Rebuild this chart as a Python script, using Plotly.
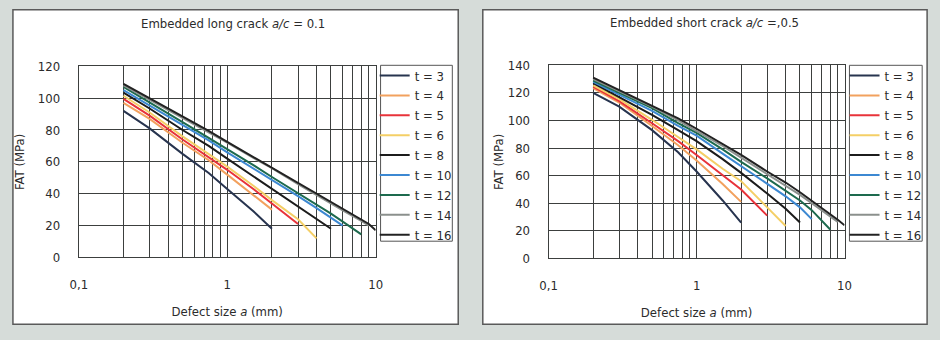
import plotly.graph_objects as go

W, H = 940, 340

# ---------------- data ----------------
defect_size = [0.2, 0.3, 0.5, 0.75, 1, 1.5, 2, 3, 4, 5, 6, 8, 9, 10]
thickness = ["t = 3", "t = 4", "t = 5", "t = 6", "t = 8", "t = 10", "t = 12", "t = 14", "t = 16"]
colors = ["#27344f", "#f2a15e", "#e8333a", "#f4cf66", "#1c1c1c", "#3c88d2", "#1d6a4e", "#8b908d", "#222222"]

# Embedded long crack a/c = 0.1  (FAT in MPa at defect_size points)
long_t3 = [92, 81, 65, 53, 43, 29, 18]
long_t4 = [97, 87, 72, 61, 52, 39, 30]
long_t5 = [99.5, 89, 74, 63, 55, 43, 34, 21]
long_t6 = [101.5, 91, 76, 65, 57, 45, 36, 24, 12]
long_t8 = [103.5, 93.5, 80, 70, 62, 51, 43, 32, 24, 18]
long_t10 = [105, 95.5, 83, 73.5, 66, 56, 48.5, 38.5, 31, 25, 20]
long_t12 = [107, 97.5, 85, 75, 68, 58, 50.5, 40.5, 33, 27.5, 22.5, 14.5]
long_t14 = [108, 99, 87.5, 78.5, 72, 62.5, 56, 46, 39, 34, 29.5, 23, 20]
long_t16 = [109, 100, 88.5, 79.5, 72.5, 63, 56.5, 47, 40, 35, 30.5, 24, 21, 17]

# Embedded short crack a/c = 0.5
short_t3 = [120, 110, 93, 77, 63, 42, 26]
short_t4 = [123.5, 113, 96, 82, 71, 54, 41]
short_t5 = [124.5, 114, 98, 85, 75, 60, 50, 31]
short_t6 = [125.5, 115.5, 100.5, 88, 79, 65, 56, 37, 23.5]
short_t8 = [127, 117, 104, 93, 85, 72, 62, 47, 36, 26]
short_t10 = [128, 118.5, 107, 96, 89, 76, 67, 54, 45, 37, 28.5]
short_t12 = [129, 120, 109, 98, 91, 79, 70, 58, 49, 42, 35, 21]
short_t14 = [130, 121, 110, 100, 92.5, 81.5, 73, 61, 53, 46, 40, 30, 26.5]
short_t16 = [131, 122, 111, 101.5, 94, 83, 75, 63, 55, 48, 42, 32, 28, 24]

long_series = [long_t3, long_t4, long_t5, long_t6, long_t8, long_t10, long_t12, long_t14, long_t16]
short_series = [short_t3, short_t4, short_t5, short_t6, short_t8, short_t10, short_t12, short_t14, short_t16]

x_tickvals = [0.1, 0.2, 0.3, 0.4, 0.5, 0.6, 0.7, 0.8, 0.9, 1, 2, 3, 4, 5, 6, 7, 8, 9, 10]
x_ticktext = ["0,1", "", "", "", "", "", "", "", "", "1", "", "", "", "", "", "", "", "", "10"]

title_left = "Embedded long crack <i>a/c</i> = 0.1"
title_right = "Embedded short crack <i>a/c</i> =,0.5"
x_title = "Defect size <i>a</i> (mm)"
y_title = "FAT (MPa)"

# ---------------- style ----------------
FONT = "DejaVu Sans Condensed, Roboto, sans-serif"
TXT = "#2b2b2b"
GRID = "#3c3f3e"
PLOTBG = "#c9d2cf"
PAGEBG = "#d6dcd9"
FS = 13


def px_x(p):
    return p / W


def px_y(p):
    return 1 - p / H


fig = go.Figure()

for name, ys, col in zip(thickness, long_series, colors):
    fig.add_trace(go.Scatter(x=defect_size[:len(ys)], y=ys, mode="lines", name=name,
                             line=dict(color=col, width=2), xaxis="x", yaxis="y",
                             legend="legend"))
for name, ys, col in zip(thickness, short_series, colors):
    fig.add_trace(go.Scatter(x=defect_size[:len(ys)], y=ys, mode="lines", name=name,
                             line=dict(color=col, width=2), xaxis="x2", yaxis="y2",
                             legend="legend2"))


def xaxis(domain, anchor):
    return dict(type="log", range=[-1, 1], domain=domain, anchor=anchor,
                tickvals=x_tickvals, ticktext=x_ticktext, ticks="",
                showgrid=True, gridcolor=GRID, gridwidth=1,
                showline=True, linecolor=GRID, linewidth=1, mirror=True,
                zeroline=False, ticklabelstandoff=15,
                tickfont=dict(family=FONT, size=FS, color=TXT),
                title=dict(text=x_title, font=dict(family=FONT, size=FS, color=TXT), standoff=15))


def yaxis(domain, anchor, ymax, title_standoff):
    return dict(range=[0, ymax], dtick=20, domain=domain, anchor=anchor, ticks="",
                showgrid=True, gridcolor=GRID, gridwidth=1,
                showline=True, linecolor=GRID, linewidth=1, mirror=True,
                zeroline=False, ticklabelstandoff=15,
                tickfont=dict(family=FONT, size=FS, color=TXT),
                title=dict(text=y_title, font=dict(family=FONT, size=FS, color=TXT),
                           standoff=title_standoff))


legend_style = dict(xanchor="left", yanchor="top", bgcolor="rgba(0,0,0,0)",
                    borderwidth=0, font=dict(family=FONT, size=13, color=TXT),
                    itemwidth=30, tracegroupgap=0, traceorder="normal")

fig.update_layout(
    width=W, height=H, autosize=False,
    margin=dict(l=0, r=0, t=0, b=0),
    paper_bgcolor=PAGEBG, plot_bgcolor=PLOTBG,
    xaxis=xaxis([px_x(71), px_x(373)], "y"),
    yaxis=yaxis([px_y(262), px_y(62)], "x", 120, 10),
    xaxis2=xaxis([px_x(549), px_x(850)], "y2"),
    yaxis2=yaxis([px_y(263), px_y(61)], "x2", 140, 1),
    legend=dict(x=px_x(372), y=px_y(56), **legend_style),
    legend2=dict(x=px_x(850), y=px_y(56), **legend_style),
    shapes=[
        dict(type="rect", xref="paper", yref="paper", x0=px_x(4), x1=px_x(457),
             y0=px_y(332), y1=px_y(3), fillcolor="white", line=dict(color="#5a5a5a", width=1.5),
             layer="below"),
        dict(type="rect", xref="paper", yref="paper", x0=px_x(482), x1=px_x(934),
             y0=px_y(332), y1=px_y(3), fillcolor="white", line=dict(color="#5a5a5a", width=1.5),
             layer="below"),
        dict(type="rect", xref="paper", yref="paper", x0=px_x(378), x1=px_x(451),
             y0=px_y(245), y1=px_y(61), fillcolor="white", line=dict(color="#555555", width=1),
             layer="below"),
        dict(type="rect", xref="paper", yref="paper", x0=px_x(855), x1=px_x(929),
             y0=px_y(245), y1=px_y(61), fillcolor="white", line=dict(color="#555555", width=1),
             layer="below"),
    ],
    annotations=[
        dict(text=title_left, xref="paper", yref="paper", x=px_x(228), y=px_y(17),
             xanchor="center", yanchor="middle",
             showarrow=False, font=dict(family=FONT, size=FS, color=TXT)),
        dict(text=title_right, xref="paper", yref="paper", x=px_x(708), y=px_y(16),
             xanchor="center", yanchor="middle",
             showarrow=False, font=dict(family=FONT, size=FS, color=TXT)),
    ],
)

fig.write_html("out.html")
